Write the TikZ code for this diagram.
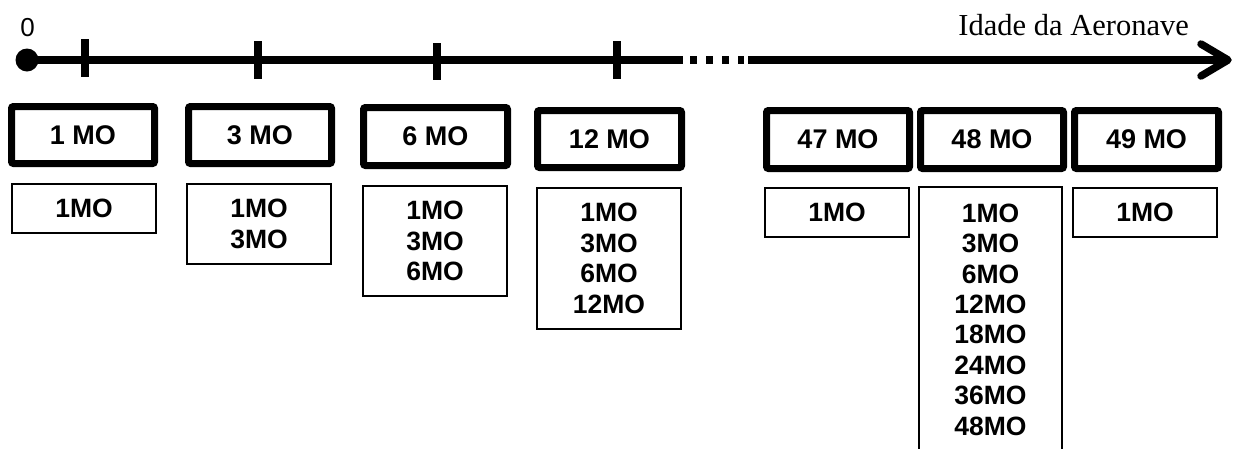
\documentclass[tikz,border=0pt]{standalone}
\usepackage{fontspec}
\setmainfont{Liberation Serif}
\setsansfont{Liberation Sans}
\begin{document}
\begin{tikzpicture}[x=1pt,y=-1pt,
  topbox/.style={draw,line width=7pt,rounded corners=2pt,minimum width=143pt,minimum height=57pt,inner sep=0pt,
    font=\sffamily\bfseries\fontsize{27}{30.5}\selectfont},
  listbox/.style={draw,line width=1.8pt,minimum width=144pt,inner sep=0pt,align=center,
    font=\sffamily\bfseries\fontsize{26.5}{30.5}\selectfont},
  tick/.style={line width=8pt},
  axis/.style={line width=7.5pt}]
\useasboundingbox (0,0) rectangle (1234,448);
\clip (0,0) rectangle (1234,448);
% axis
\node[circle,fill,minimum size=23pt,inner sep=0pt] (start) at (27,60) {};
\coordinate (s1) at (683,60);
\coordinate (d1) at (690,60);
\coordinate (d2) at (744,60);
\coordinate (s2) at (748,60);
\coordinate (tipend) at (1228,60);
\coordinate (tipa) at (1201,44);
\coordinate (tipb) at (1201,76);
\draw[axis] (start.center) -- (s1);
\draw[axis,dash pattern=on 7pt off 9pt] (d1) -- (d2);
\draw[axis] (s2) -- (tipend);
\draw[axis,line cap=round,line join=round] (tipa) -- (tipend) -- (tipb);
\foreach \x/\a/\b in {85/39/77,258/41/79,437/43/80,617/41/79}
  \draw[tick] (\x,\a) -- (\x,\b);
\node[font=\sffamily\fontsize{26}{30}\selectfont,anchor=base,inner sep=0pt] (zero) at (27.5,36) {0};
\node[font=\fontsize{30.5}{36}\selectfont,anchor=base east,inner sep=0pt] (lbl) at (1189,35) {Idade da Aeronave};
% top boxes
\node[topbox] (t1) at (83,135) {1 MO};
\node[topbox] (t3) at (260,135) {3 MO};
\node[topbox,minimum width=144pt,minimum height=58pt] (t6) at (435.5,136.5) {6 MO};
\node[topbox,minimum width=144pt] (t12) at (609.5,139) {12 MO};
\node[topbox,minimum height=58pt] (t47) at (838,139.5) {47 MO};
\node[topbox,minimum height=58pt] (t48) at (992,139.5) {48 MO};
\node[topbox,minimum width=144pt,minimum height=58pt] (t49) at (1146.5,139.5) {49 MO};
% list boxes
\node[listbox,minimum height=49pt] (b1) at (84,208.5) {1MO};
\node[listbox,minimum height=80pt] (b2) at (259,224) {1MO\\3MO};
\node[listbox,minimum height=110pt] (b3) at (435,241) {1MO\\3MO\\6MO};
\node[listbox,minimum height=141pt] (b4) at (609,258.5) {1MO\\3MO\\6MO\\12MO};
\node[listbox,minimum height=49pt] (b47) at (837,212.5) {1MO};
\node[listbox,minimum height=49pt] (b49) at (1145,212.5) {1MO};
\node[listbox,minimum width=143pt,minimum height=300pt] (b48) at (990.5,337) {};
\node[anchor=north,inner sep=0pt,align=center,font=\sffamily\bfseries\fontsize{26.5}{30.4}\selectfont] (b48t) at (990.5,203.5)
  {1MO\\3MO\\6MO\\12MO\\18MO\\24MO\\36MO\\48MO};
\end{tikzpicture}
\end{document}
